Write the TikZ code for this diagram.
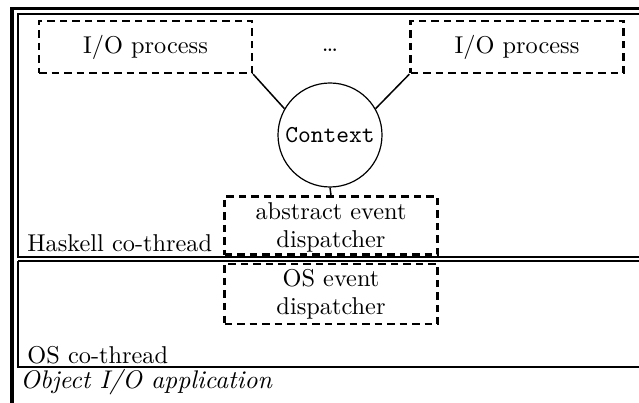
\documentclass[tikz,border=0pt]{standalone}
\usetikzlibrary{positioning}
\newlength\px
\setlength\px{0.411pt}
\begin{document}
\begin{tikzpicture}[x=0.411pt,y=-0.411pt,
  dbox/.style={draw,line width=2.4*\px,dash pattern=on 7.5*\px off 5*\px,
    minimum width=213*\px,inner sep=0pt,align=center,font=\normalsize},
  conn/.style={line width=1.5*\px},
  lbl/.style={anchor=base west,inner sep=0pt}]
\useasboundingbox (0,0) rectangle (639,402);
\clip (0,0) rectangle (639,402);
% frames
\draw[line width=3.5*\px] (12,8.5) rectangle (800,600);
\draw[line width=2.2*\px] (18,14) rectangle (800,257);
\draw[line width=2.2*\px] (18,261) -- (18,367) -- (800,367);
\draw[line width=1.4*\px] (18,261) -- (800,261);
% nodes
\node[dbox,minimum height=52*\px] (lp) at (145.5,47) {I/O process};
\node[dbox,minimum height=52*\px] (rp) at (517,47) {I/O process};
\node[anchor=base,inner sep=0pt] (dots) at (330,52) {\dots};
\node[draw,circle,line width=1.2*\px,minimum size=104*\px,inner sep=0pt,font=\ttfamily] (ctx) at (330,135) {Context};
\node[dbox,minimum height=58*\px,text depth=0pt] (aed) at (331,225.5) {\raisebox{0pt}[0pt][0pt]{}abstract event\\[-0.5pt]dispatcher};
\node[dbox,minimum height=60*\px] (osd) at (331,294) {OS event\\[-0.5pt]dispatcher};
% labels
\node[lbl] (hct) at (27,251) {Haskell co-thread};
\node[lbl] (oct) at (27,363) {OS co-thread};
\node[lbl,font=\fontsize{10.5}{12}\selectfont\itshape] (app) at (20,388) {Object I/O application};
% connectors
\draw[conn] (lp.south east) -- (ctx.150);
\draw[conn] (rp.south west) -- (ctx.30);
\draw[conn] (ctx.south) -- (aed.north);
\end{tikzpicture}
\end{document}
